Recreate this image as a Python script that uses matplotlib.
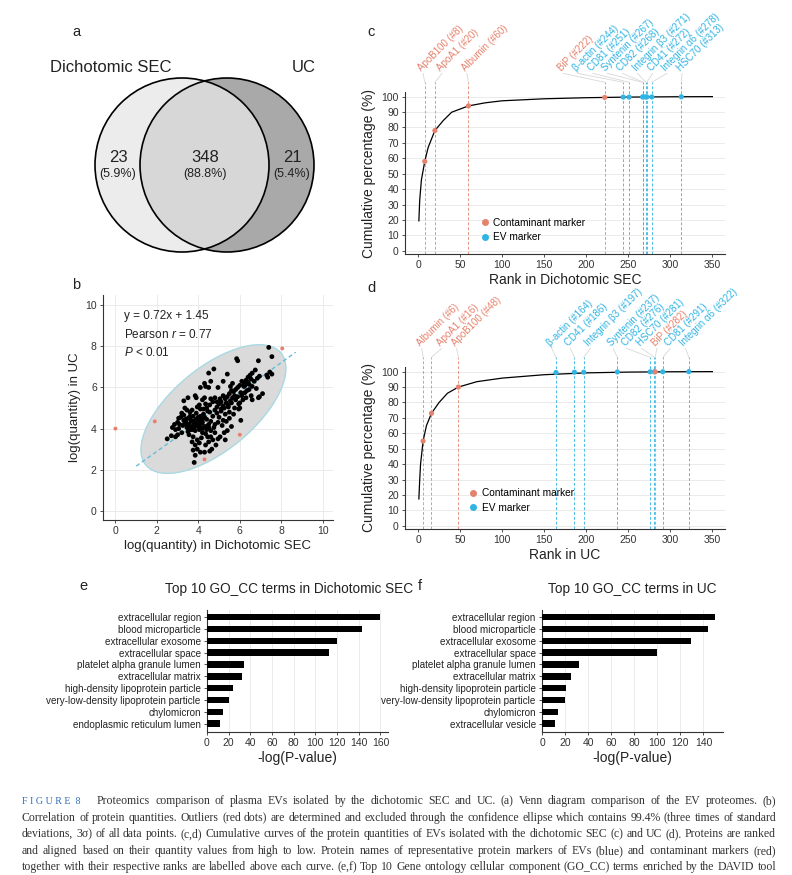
import numpy as np
import matplotlib.pyplot as plt
import matplotlib.transforms as mtransforms
from matplotlib.patches import Circle, Ellipse
from matplotlib.lines import Line2D

plt.rcParams['font.family'] = ['Liberation Sans', 'DejaVu Sans']
plt.rcParams['mathtext.fontset'] = 'custom'
plt.rcParams['mathtext.rm'] = 'Liberation Sans'
plt.rcParams['mathtext.it'] = 'Liberation Sans:italic'

W, H = 792, 875
RED = '#e5826d'
BLUE = '#2fb4e3'
GRID = '#ebebeb'
TXT = '#222222'

# ---- a: venn
venn_sets = ['Dichotomic SEC', 'UC']
venn_counts = [23, 348, 21]
venn_pcts = ['5.9%', '88.8%', '5.4%']

# ---- b: log quantities
b_x = [7.4, 7.55, 5.85, 5.9, 6.9, 4.75, 4.5, 5.4, 7.45, 7.55, 7.3, 7.35, 6.75, 6.6, 6.5, 6.4,
       6.55, 6.3, 6.2, 6.1, 6.0, 6.45, 6.6, 6.8, 6.9, 6.95, 7.1, 6.55, 6.6, 6.3, 5.95, 6.0,
       5.95, 6.05, 5.9, 5.8, 5.7, 5.6, 5.5, 5.75, 5.65, 5.4, 5.3, 5.2, 5.1, 5.55, 5.35, 5.8,
       5.45, 5.25, 5.0, 4.9, 4.8, 5.1, 4.9, 4.7, 5.3, 5.5, 5.2, 4.95, 5.6, 4.8, 4.6, 4.55,
       4.4, 4.35, 4.6, 4.8, 5.05, 4.3, 4.2, 3.9, 3.85, 3.5, 3.3, 4.1, 4.3, 4.35, 4.5, 4.6,
       3.95, 4.1, 5.65, 5.2, 5.55, 4.95,
       2.5, 2.7, 2.9, 2.9, 3.05, 3.1, 3.0, 3.2, 3.3, 3.25, 3.4, 3.45, 3.5, 3.55, 3.6, 3.65,
       3.7, 3.75, 3.8, 3.85, 3.9, 3.95, 4.0, 4.05, 4.1, 4.15, 4.2, 4.25, 4.3, 4.35, 4.4, 4.45,
       4.5, 3.6, 3.7, 3.3, 3.15, 3.9, 4.0, 3.55, 3.75, 3.95, 4.05, 4.15, 3.85, 3.7, 3.95, 4.1,
       4.3, 3.75, 3.8, 3.85, 4.55, 4.65, 4.35, 4.5, 4.7, 4.8, 4.95, 5.05, 5.3, 5.25, 4.6, 4.75,
       4.85, 5.4, 4.25, 4.05, 3.45, 3.2, 3.35, 2.85, 2.75, 3.0, 4.45, 4.55, 4.7, 4.2, 4.4, 4.6,
       3.6, 3.85, 4.1, 3.5, 3.4, 3.05, 5.0, 5.15, 5.35, 5.5, 5.7, 5.75, 6.0, 6.15, 6.25, 6.35,
       6.45, 6.05, 6.2, 6.7, 6.85, 6.95, 6.4, 6.25, 3.8, 4.0, 4.2, 3.65, 3.9, 4.1, 4.3, 3.45,
       4.15, 3.7, 4.4, 4.0, 3.55, 4.25, 4.5, 3.35, 5.1, 5.45, 4.9, 5.2, 5.6, 5.9, 6.1]
b_y = [7.95, 7.5, 7.4, 7.3, 7.3, 6.9, 6.7, 6.65, 6.75, 6.65, 6.6, 6.5, 6.85, 6.7, 6.6, 6.5,
       6.4, 6.35, 6.2, 6.3, 6.1, 6.15, 6.05, 5.95, 5.5, 5.55, 5.7, 5.6, 5.4, 5.5, 5.2, 5.0,
       4.95, 4.4, 6.0, 5.9, 5.8, 5.85, 5.7, 5.6, 5.5, 5.55, 5.45, 5.6, 5.3, 5.35, 5.25, 5.4,
       5.05, 5.0, 5.2, 5.05, 4.9, 4.85, 4.75, 4.6, 4.7, 4.8, 4.4, 4.3, 4.1, 4.2, 4.35, 4.8,
       5.0, 5.2, 5.45, 5.5, 5.45, 5.5, 5.4, 5.5, 5.6, 5.5, 5.35, 6.0, 6.2, 6.05, 6.0, 6.3,
       5.05, 4.95, 6.2, 6.3, 6.05, 6.0,
       3.5, 3.65, 3.6, 3.95, 4.0, 4.2, 4.3, 3.8, 4.4, 4.15, 4.3, 4.05, 4.5, 4.2, 3.95, 4.35,
       4.1, 4.6, 4.25, 3.9, 4.45, 4.15, 4.35, 3.95, 4.6, 4.25, 3.8, 4.7, 4.1, 3.75, 4.45, 3.6,
       4.2, 4.8, 4.9, 4.65, 4.55, 4.75, 4.55, 3.7, 3.6, 3.45, 3.3, 3.55, 3.2, 3.35, 3.0, 2.85,
       2.85, 2.95, 2.35, 2.7, 2.9, 3.0, 3.2, 3.35, 3.45, 3.8, 3.5, 3.6, 3.45, 3.8, 3.9, 4.05,
       3.2, 3.9, 4.95, 5.15, 4.9, 4.75, 5.0, 4.2, 4.05, 3.7, 4.85, 5.15, 5.3, 4.3, 3.95, 3.6,
       4.6, 4.4, 4.05, 3.85, 4.45, 4.5, 4.55, 4.15, 4.35, 4.5, 4.7, 5.0, 5.25, 5.4, 5.75, 5.85,
       5.9, 5.75, 6.05, 6.3, 6.45, 6.55, 6.25, 6.1, 4.05, 4.1, 4.0, 4.4, 4.3, 4.5, 4.55, 4.2,
       4.4, 3.95, 4.1, 4.25, 4.0, 4.5, 4.05, 4.25, 4.95, 5.15, 5.3, 5.1, 5.25, 5.55, 5.6]
out_x = [0.0, 1.9, 4.3, 6.0, 8.05]
out_y = [4.0, 4.35, 2.5, 3.7, 7.9]
fit_slope, fit_icpt = 0.72, 1.45
fit_range = [1.0, 8.7]
ell_center = (4.73, 4.95)
ell_w, ell_h, ell_ang = 8.5, 4.0, 40

# ---- c / d: cumulative curves
c_rank = [1, 2, 4, 8, 12, 20, 30, 40, 60, 80, 100, 150, 200, 250, 300, 350]
c_pct = [19.5, 33, 46, 58, 67, 78, 84.5, 89.9, 94, 96, 97.3, 98.6, 99.3, 99.7, 99.9, 100]
c_names = ['ApoB100', 'ApoA1', 'Albumin', 'BiP', 'β-actin', 'CD81', 'Syntenin', 'CD82',
           'Integrin β3', 'CD41', 'Integrin α6', 'HSC70']
c_ranks = [8, 20, 60, 222, 244, 251, 267, 268, 271, 272, 278, 313]
c_vals = [58, 78, 94, 99.5, 99.7, 99.7, 99.8, 99.8, 99.8, 99.8, 99.8, 99.9]
c_kind = ['C', 'C', 'C', 'C', 'E', 'E', 'E', 'E', 'E', 'E', 'E', 'E']

d_rank = [1, 2, 3, 6, 10, 16, 25, 35, 48, 70, 100, 150, 200, 250, 300, 350]
d_pct = [17.5, 30, 40, 55, 65, 73, 80, 86, 90, 93.5, 95.8, 98, 99.2, 99.7, 99.9, 100]
d_names = ['Albumin', 'ApoA1', 'ApoB100', 'β-actin', 'CD41', 'Integrin β3', 'Syntenin',
           'CD82', 'HSC70', 'BiP', 'CD81', 'Integrin α6']
d_ranks = [6, 16, 48, 164, 186, 197, 237, 276, 281, 282, 291, 322]
d_vals = [55, 73, 90, 99.4, 99.6, 99.6, 99.8, 99.9, 99.9, 99.9, 99.9, 100]
d_kind = ['C', 'C', 'C', 'E', 'E', 'E', 'E', 'E', 'E', 'C', 'E', 'E']

# ---- e / f: GO_CC terms
e_terms = ['extracellular region', 'blood microparticle', 'extracellular exosome',
           'extracellular space', 'platelet alpha granule lumen', 'extracellular matrix',
           'high-density lipoprotein particle', 'very-low-density lipoprotein particle',
           'chylomicron', 'endoplasmic reticulum lumen']
e_vals = [160, 143, 120, 112.3, 34.5, 32, 23.7, 20.6, 14.8, 11.7]
f_terms = ['extracellular region', 'blood microparticle', 'extracellular exosome',
           'extracellular space', 'platelet alpha granule lumen', 'extracellular matrix',
           'high-density lipoprotein particle', 'very-low-density lipoprotein particle',
           'chylomicron', 'extracellular vesicle']
f_vals = [150, 143.8, 129.3, 99.5, 32.2, 25.2, 21.2, 19.7, 14.2, 11.3]

caption = [
    'Proteomics comparison of plasma EVs isolated by the dichotomic SEC and UC. (a) Venn diagram comparison of the EV proteomes. (b)',
    'Correlation of protein quantities. Outliers (red dots) are determined and excluded through the confidence ellipse which contains 99.4% (three times of standard',
    'deviations, 3σ) of all data points. (c,d) Cumulative curves of the protein quantities of EVs isolated with the dichotomic SEC (c) and UC (d). Proteins are ranked',
    'and aligned based on their quantity values from high to low. Protein names of representative protein markers of EVs (blue) and contaminant markers (red)',
    'together with their respective ranks are labelled above each curve. (e,f) Top 10 Gene ontology cellular component (GO_CC) terms enriched by the DAVID tool',
]


def px_axes(l, t, r, b, **kw):
    return fig.add_axes([l / W, 1 - b / H, (r - l) / W, (b - t) / H], **kw)


def style(ax, ls=7.5):
    for s in ['top', 'right']:
        ax.spines[s].set_visible(False)
    for s in ['left', 'bottom']:
        ax.spines[s].set_color('#333333')
        ax.spines[s].set_linewidth(0.8)
    ax.tick_params(labelsize=ls, colors='#333333', length=2.5, width=0.6, pad=2)


fig = plt.figure(figsize=(W / 100, H / 100), dpi=100)

# overlay in pixel coordinates for venn, letters and caption
ov = fig.add_axes([0, 0, 1, 1], zorder=-1)
ov.set_xlim(0, W)
ov.set_ylim(H, 0)
ov.axis('off')

left = Circle((182, 165), 87, facecolor='#ececec', edgecolor='none')
right = Circle((227, 165), 87, facecolor='#a9a9a9', edgecolor='none')
ov.add_patch(left)
ov.add_patch(right)
mid = Circle((227, 165), 87, facecolor='#d7d7d7', edgecolor='none')
ov.add_patch(mid)
mid.set_clip_path(left)
for c in [(182, 165), (227, 165)]:
    ov.add_patch(Circle(c, 87, facecolor='none', edgecolor='black', lw=1.2))
ov.text(111, 67, venn_sets[0], fontsize=12, ha='center', va='center', color=TXT)
ov.text(304, 67, venn_sets[1], fontsize=12, ha='center', va='center', color=TXT)
for xx, n, p in zip([118, 205, 292], venn_counts, venn_pcts):
    ov.text(xx, 157, str(n), fontsize=12, ha='center', va='center', color=TXT)
    ov.text(xx, 174, f'({p})', fontsize=9, ha='center', va='center', color=TXT)

for lt, xx, yy in [('a', 76, 32), ('b', 76, 285), ('c', 371, 32), ('d', 371, 288),
                   ('e', 83, 586), ('f', 420, 586)]:
    ov.text(xx, yy, lt, fontsize=10.5, ha='center', va='center', color=TXT)

# ---- b
ax = px_axes(103, 295, 333, 520)
style(ax)
ax.grid(True, color=GRID, lw=0.7)
ax.set_axisbelow(True)
ax.add_patch(Ellipse(ell_center, ell_w, ell_h, angle=ell_ang, facecolor='#dadada',
                     edgecolor='#a9d9e3', lw=1.0, zorder=1))
fx = np.array(fit_range)
ax.plot(fx, fit_slope * fx + fit_icpt, color='#69bdd6', lw=1.0, ls=(0, (3, 2)), zorder=2)
ax.scatter(b_x, b_y, s=12, color='black', edgecolors='none', zorder=3)
ax.scatter(out_x, out_y, s=8, color=RED, edgecolors='none', zorder=3)
ax.set_xlim(-0.6, 10.5)
ax.set_ylim(-0.45, 10.5)
ax.set_xticks(range(0, 11, 2))
ax.set_yticks(range(0, 11, 2))
ax.set_xlabel('log(quantity) in Dichotomic SEC', fontsize=9.5, color=TXT, labelpad=3)
ax.set_ylabel('log(quantity) in UC', fontsize=9.5, color=TXT, labelpad=3)
ax.text(0.4, 9.5, f'y = {fit_slope}x + {fit_icpt}', fontsize=8.5, va='center', color=TXT)
ax.text(0.4, 8.6, 'Pearson $r$ = 0.77', fontsize=8.5, va='center', color=TXT)
ax.text(0.4, 7.7, '$P$ < 0.01', fontsize=8.5, va='center', color=TXT)


# ---- c / d
def cum_panel(ax, rank, pct, names, ranks, vals, kinds, label_at, xlabel, leg_xy):
    style(ax, 7.5)
    ax.set_xlim(-15.5, 365)
    ax.set_ylim(-2, 103)
    ax.set_yticks(range(0, 101, 10))
    ax.set_xticks(range(0, 351, 50))
    ax.yaxis.grid(True, color=GRID, lw=0.7)
    ax.set_axisbelow(True)
    tr = mtransforms.blended_transform_factory(ax.transData, ax.transAxes)
    for n, r, v, k, lx in zip(names, ranks, vals, kinds, label_at):
        col = RED if k == 'C' else BLUE
        ax.plot([r, r], [0, 1.06], transform=tr, color=col, lw=0.7, ls=(0, (3, 2)),
                clip_on=False, zorder=2, alpha=0.85)
        ax.plot([r, lx], [1.06, 1.115], transform=tr, color='#d8d8d8', lw=0.6, clip_on=False)
        ax.text(lx, 1.12, f'{n} (#{r})', transform=tr, rotation=45, rotation_mode='anchor',
                ha='left', va='bottom', color=col, fontsize=7)
        ax.scatter(r, v, s=14, color=col, edgecolors='none', zorder=4)
    ax.plot(rank, pct, color='black', lw=0.9, zorder=3)
    ax.set_xlabel(xlabel, fontsize=10, color=TXT, labelpad=2)
    ax.set_ylabel('Cumulative percentage (%)', fontsize=10, color=TXT, labelpad=4)
    hs = [Line2D([], [], marker='o', ls='none', color=RED, markersize=4, label='Contaminant marker'),
          Line2D([], [], marker='o', ls='none', color=BLUE, markersize=4, label='EV marker')]
    ax.legend(handles=hs, loc='lower left', bbox_to_anchor=leg_xy, frameon=False, fontsize=7.3,
              handletextpad=0.3, labelspacing=0.45, borderpad=0, borderaxespad=0,
              handlelength=1)


axc = px_axes(405, 92, 725, 254)
cum_panel(axc, c_rank, c_pct, c_names, c_ranks, c_vals, c_kind,
          [6, 28.6, 58, 172.6, 190, 208, 225, 243, 261, 279, 296, 314],
          'Rank in Dichotomic SEC', (0.233, 0.071))
axd = px_axes(405, 367, 725, 529)
cum_panel(axd, d_rank, d_pct, d_names, d_ranks, d_vals, d_kind,
          [4.4, 28, 46, 159, 181, 205, 232, 248, 266, 284, 300, 318],
          'Rank in UC', (0.198, 0.101))


# ---- e / f
def go_panel(ax, terms, vals, xmax, ticks):
    style(ax, 7.5)
    y = np.arange(len(terms))
    ax.barh(y, vals, height=0.55, color='black', zorder=3)
    ax.set_yticks(y)
    ax.set_yticklabels(terms, fontsize=7.1, color=TXT)
    ax.set_ylim(9.7, -0.6)
    ax.set_xlim(0, xmax)
    ax.set_xticks(ticks)
    ax.xaxis.grid(True, color=GRID, lw=0.7)
    ax.set_axisbelow(True)
    ax.set_xlabel('-log(P-value)', fontsize=10, color=TXT, labelpad=2)


axe = px_axes(207, 610, 388, 732)
go_panel(axe, e_terms, e_vals, 167, range(0, 161, 20))
axf = px_axes(542, 610, 723, 732)
go_panel(axf, f_terms, f_vals, 157, range(0, 141, 20))
ov.text(289, 589, 'Top 10 GO_CC terms in Dichotomic SEC', fontsize=9.8, ha='center', va='center', color=TXT)
ov.text(632, 589, 'Top 10 GO_CC terms in UC', fontsize=9.8, ha='center', va='center', color=TXT)

# ---- caption, justified word by word
rend = fig.canvas.get_renderer()
serif = ['Liberation Serif', 'DejaVu Serif']
ov.text(22, 804, 'F I G U R E  8', fontsize=7.2, family=serif, color='#2e6db4',
        va='baseline', ha='left')
# one size for all lines: the widest line must fit with normal spaces
size = 20.0
for i, line in enumerate(caption):
    x0 = 97 if i == 0 else 22
    t = ov.text(0, 0, line, fontsize=10, family=serif)
    size = min(size, 10 * (776 - x0) / t.get_window_extent(rend).width)
    t.remove()
for i, line in enumerate(caption):
    yy = 804 + i * 16.6
    x0 = 97 if i == 0 else 22
    words = line.split(' ')
    ts = [ov.text(0, yy, w, fontsize=size, family=serif, color='#333333',
                  va='baseline', ha='left') for w in words]
    ws = [t.get_window_extent(rend).width for t in ts]
    gap = (776 - x0 - sum(ws)) / (len(words) - 1)
    x = x0
    for t, w in zip(ts, ws):
        t.set_x(x)
        x += w + gap

fig.savefig('out.png', dpi=100)
